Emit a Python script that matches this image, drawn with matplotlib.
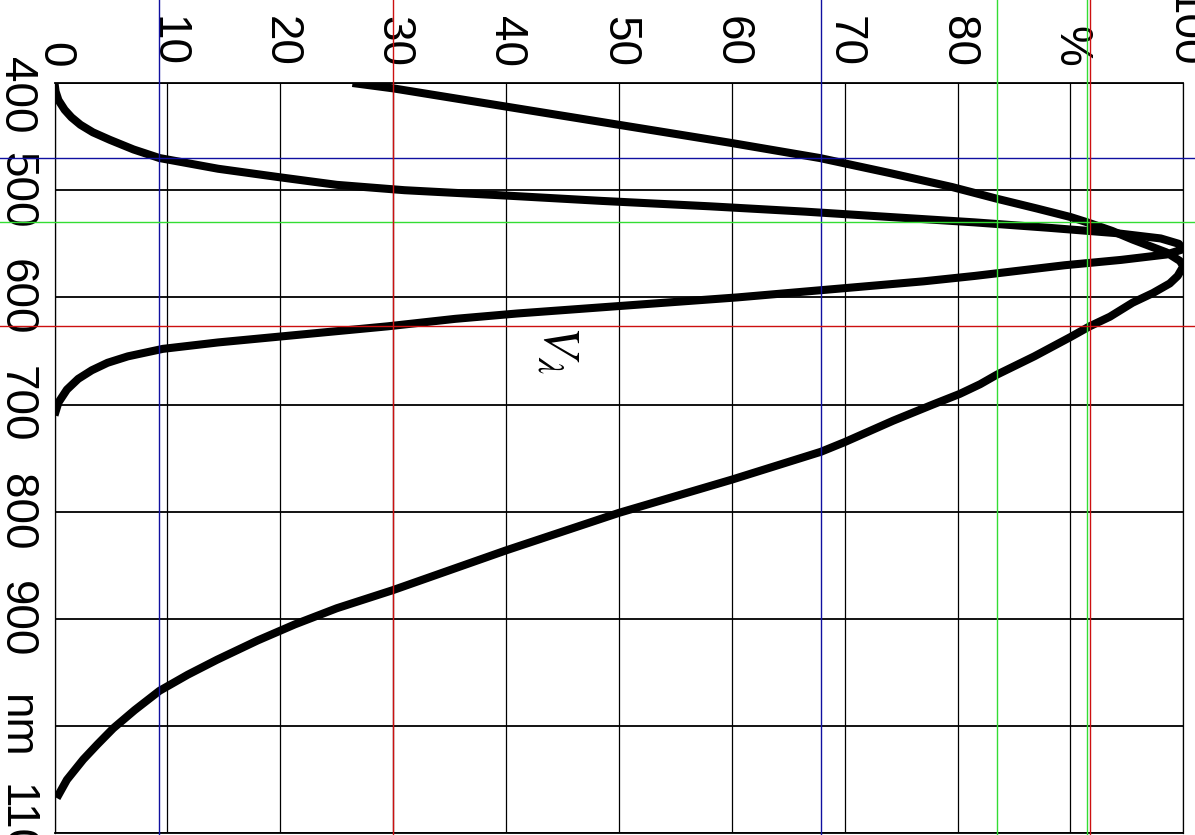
import matplotlib
matplotlib.use('Agg')
import matplotlib.pyplot as plt
from matplotlib import font_manager

avail = {f.name for f in font_manager.fontManager.ttflist}
fam = [f for f in ['Liberation Sans Narrow', 'Liberation Sans', 'DejaVu Sans'] if f in avail] or ['DejaVu Sans']
plt.rcParams['font.family'] = fam
plt.rcParams['mathtext.fontset'] = 'stix'

# ---- data (wavelength nm, relative response %) ----
v_nm = [400, 408, 416, 425, 432, 439, 446, 453, 462, 470, 480, 488, 495, 500, 505, 510, 515, 520,
        525, 530, 535, 540, 545, 550, 555, 560, 565, 570, 575, 580, 585, 590, 595, 600,
        605, 610, 615, 620, 627, 636, 642, 648, 655, 661, 668, 676, 686, 698, 710]
v_pct = [0, 0.1, 0.35, 0.9, 1.5, 2.3, 3.4, 4.9, 7.0, 9.3, 14.5, 20, 25, 31, 40, 48.5, 58, 66.5,
         74, 81.5, 88, 94, 98, 99.6, 100, 98.5, 94.5, 89.5, 85.5, 81.5, 77, 71.5, 66, 60.5,
         54, 47.5, 41, 35.5, 29.5, 20.5, 14.5, 9.6, 6.5, 4.7, 3.3, 2.1, 1.1, 0.35, 0]

s_nm = [400, 405, 422, 439, 456, 470, 484, 497, 508, 517, 525, 530, 538, 546, 558, 566, 571, 580,
        587, 596, 605, 618, 627, 637, 655, 672, 681, 690, 700, 715, 735, 744, 770, 801,
        836, 873, 890, 905, 920, 938, 952, 967, 985, 1002, 1017, 1031, 1050, 1067]
s_pct = [26.4, 30, 40, 50, 60, 67.8, 74, 79.5, 83.5, 87, 90, 91.5, 93.7, 95.5, 98.5, 99.7, 100, 99.5,
         98.8, 97.3, 95.5, 93.5, 91.7, 90, 86.8, 83.5, 82, 80.2, 77.8, 74.3, 70, 67.9, 60, 50,
         40, 30, 25, 21.3, 18, 14.4, 11.8, 9.3, 7.1, 5.2, 3.8, 2.55, 1.1, 0.2]

x_ticks = [0, 10, 20, 30, 40, 50, 60, 70, 80, 90, 100]
x_labels = ['0', '10', '20', '30', '40', '50', '60', '70', '80', '%', '100']
y_ticks = [400, 500, 600, 700, 800, 900, 1000, 1100]
y_labels = ['', '500', '600', '700', '800', '900', 'nm', '1100']

ref_nm = [470, 530, 627]
ref_pct = [[9.3, 67.9], [83.5, 91.5], [30.0, 91.75]]
ref_colors = ['#1010a0', '#33dd33', '#cc1010']

fig = plt.figure(figsize=(11.95, 8.35), dpi=100)
W, H = 1195.0, 835.0
x0, x1, y0, y1 = 54.5, 1183.3, 83.0, 833.4
ax = fig.add_axes([x0 / W, 1 - y1 / H, (x1 - x0) / W, (y1 - y0) / H])
ax.set_xlim(0, 100)
ax.set_ylim(1100, 400)

FS = 33
ax.xaxis.tick_top()
ax.set_xticks(x_ticks, x_labels, rotation=-90, ha='center', va='bottom')
ax.set_yticks(y_ticks, y_labels, rotation=-90, ha='right', va='center')
ax.tick_params(axis='x', length=0, pad=11.5, labelsize=FS)
ax.tick_params(axis='y', length=0, pad=12, labelsize=FS)
ax.annotate('400', xy=(0, 400), xycoords='data', xytext=(-12, -8.6),
            textcoords='offset points', rotation=-90, ha='right', va='center', fontsize=FS)

ax.xaxis.grid(True, color='black', lw=0.9)
ax.yaxis.grid(True, color='black', lw=1.3)
ax.set_axisbelow(True)
for side, lw in [('top', 1.3), ('bottom', 1.3), ('left', 0.9), ('right', 0.9)]:
    ax.spines[side].set_linewidth(lw)
    ax.spines[side].set_color('black')

ax.plot(s_pct, s_nm, color='black', lw=5.8, solid_capstyle='butt', solid_joinstyle='round', zorder=3)
ax.plot(v_pct, v_nm, color='black', lw=5.8, solid_capstyle='butt', solid_joinstyle='round', zorder=3)

for nm, pcts, c in zip(ref_nm, ref_pct, ref_colors):
    ax.axhline(nm, xmin=-0.1, xmax=1.1, color=c, lw=1.0, clip_on=False, zorder=4)
    for p in pcts:
        ax.axvline(p, ymin=-0.1, ymax=1.2, color=c, lw=1.0, clip_on=False, zorder=4)

ax.text(44.5, 649, r'$V_\lambda$', rotation=-90, ha='center', va='center', fontsize=37)

fig.savefig('out.png', dpi=100)
